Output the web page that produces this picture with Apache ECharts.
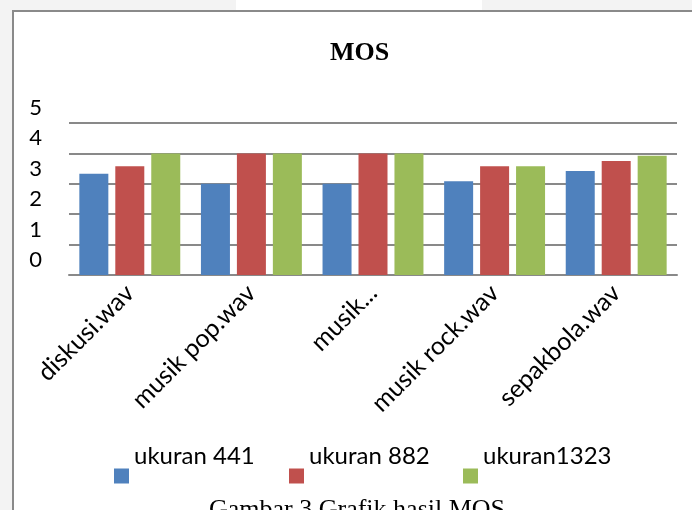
<!DOCTYPE html>
<html>
<head>
<meta charset="utf-8">
<script src="https://cdn.jsdelivr.net/npm/echarts@6/dist/echarts.min.js"></script>
<style>
  html, body { margin: 0; padding: 0; background: #f3f3f3; }
  #page-top { position: absolute; left: 236px; top: 0; width: 246px; height: 12px; background: #fff; }
  #frame { position: absolute; left: 12px; top: 10px; width: 800px; height: 600px; border: 2px solid #8a8a8a; background: #fff; }
  #chart { position: absolute; left: 0; top: 0; width: 692px; height: 510px; }
</style>
</head>
<body>
<div id="page-top"></div>
<div id="frame"></div>
<div id="chart"></div>
<script>
// data
const categories = ["diskusi.wav", "musik pop.wav", "musik...", "musik rock.wav", "sepakbola.wav"];
const seriesNames = ["ukuran 441", "ukuran 882", "ukuran1323"];
const ukuran441 = [3.33, 3.0, 3.0, 3.08, 3.42];
const ukuran882 = [3.58, 4.0, 4.0, 3.58, 3.75];
const ukuran1323 = [4.0, 4.0, 4.0, 3.58, 3.92];

const colors = ["#4f81bd", "#c0504d", "#9bbb59"];
const font = "Lato, 'DejaVu Sans', sans-serif";
const serif = "'Liberation Serif', 'DejaVu Serif', serif";

let chart = echarts.init(document.getElementById("chart"));

// legend text sits above-right of its square in the original, so each
// legend gets its own position and the name is pushed up with a blank line
function legendAt(i, left) {
  return {
    data: [seriesNames[i]],
    left: left,
    top: 436,
    padding: 0,
    icon: "rect",
    itemWidth: 15,
    itemHeight: 15,
    itemGap: 0,
    formatter: function (name) { return name + "\n "; },
    textStyle: {
      fontFamily: font,
      fontSize: 24,
      lineHeight: 40,
      color: "#000",
    },
  };
}

let option = {
  animation: false,
  color: colors,
  title: [
    {
      text: "MOS",
      left: 330,
      top: 40,
      padding: 0,
      textStyle: { fontFamily: serif, fontSize: 26, fontWeight: "bold", color: "#000" },
    },
    {
      text: "Gambar 3 Grafik hasil MOS",
      left: 209,
      top: 497,
      padding: 0,
      textStyle: { fontFamily: serif, fontSize: 26, fontWeight: "normal", color: "#000" },
    },
  ],
  legend: [legendAt(0, 114), legendAt(1, 289), legendAt(2, 463)],
  grid: {
    left: 69,
    right: 15,
    top: 123,
    bottom: 235,
  },
  xAxis: {
    type: "category",
    data: categories,
    axisTick: { show: false },
    axisLine: { lineStyle: { color: "#898989", width: 2 } },
    axisLabel: {
      rotate: 45,
      interval: 0,
      margin: 14,
      fontFamily: font,
      fontSize: 25,
      color: "#000",
    },
  },
  yAxis: {
    type: "value",
    min: 0,
    max: 5,
    interval: 1,
    axisLine: { show: false },
    axisTick: { show: false },
    splitLine: { lineStyle: { color: "#898989", width: 2 } },
    // labels in the original sit above their gridlines
    axisLabel: {
      margin: 27,
      showMinLabel: true,
      showMaxLabel: true,
      verticalAlign: "bottom",
      lineHeight: 30,
      fontFamily: font,
      fontSize: 22,
      color: "#000",
    },
  },
  series: [
    { name: seriesNames[0], type: "bar", data: ukuran441, barWidth: 29, barGap: "24%" },
    { name: seriesNames[1], type: "bar", data: ukuran882, barWidth: 29, barGap: "24%" },
    { name: seriesNames[2], type: "bar", data: ukuran1323, barWidth: 29, barGap: "24%" },
  ],
};

chart.setOption(option);
</script>
</body>
</html>
